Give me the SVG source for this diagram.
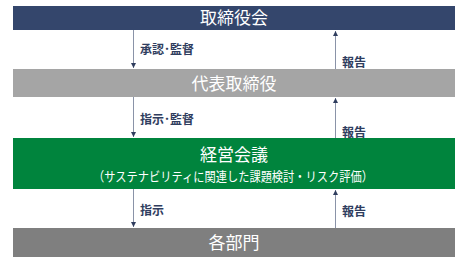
<svg xmlns="http://www.w3.org/2000/svg" width="467" height="264" viewBox="0 0 467 264">
<defs>
<style>
.t{font-family:"Noto Sans CJK JP","Noto Sans",sans-serif;fill:#fff;text-anchor:middle}
.lb{font-family:"Noto Sans CJK JP","Noto Sans",sans-serif;fill:#2f3d5e;font-weight:bold;font-size:12px}
.c{stroke:#8a93a8;stroke-width:1;fill:none}
</style>
<marker id="ah" viewBox="0 0 6 6" refX="6" refY="3" markerWidth="5" markerHeight="5" orient="auto" markerUnits="userSpaceOnUse">
<path d="M0,0 L6,3 L0,6 Z" fill="#2f3d5e"/>
</marker>
</defs>
<rect width="467" height="264" fill="#fff"/>
<g id="board">
<rect x="13" y="6" width="442" height="24" fill="#34466c"/>
<text class="t" x="234" y="24" font-size="17">取締役会</text>
</g>
<g id="president">
<rect x="13" y="69" width="442" height="28" fill="#a5a5a5"/>
<text class="t" x="234" y="90" font-size="17">代表取締役</text>
</g>
<g id="management">
<rect x="13" y="138" width="442" height="51" fill="#00843d"/>
<text class="t" x="234" y="161" font-size="17">経営会議</text>
<text class="t" x="233" y="180.5" font-size="13" textLength="280" lengthAdjust="spacingAndGlyphs">（サステナビリティに関連した課題検討・リスク評価）</text>
</g>
<g id="departments">
<rect x="13" y="228" width="442" height="29" fill="#7f7f7f"/>
<text class="t" x="234" y="249" font-size="17">各部門</text>
</g>
<g id="connectors">
<line class="c" x1="133.5" y1="30" x2="133.5" y2="68" marker-end="url(#ah)"/>
<line class="c" x1="335.5" y1="69" x2="335.5" y2="31" marker-end="url(#ah)"/>
<line class="c" x1="133.5" y1="97" x2="133.5" y2="137" marker-end="url(#ah)"/>
<line class="c" x1="335.5" y1="138" x2="335.5" y2="98" marker-end="url(#ah)"/>
<line class="c" x1="133.5" y1="189" x2="133.5" y2="227" marker-end="url(#ah)"/>
<line class="c" x1="335.5" y1="228" x2="335.5" y2="190" marker-end="url(#ah)"/>
<text class="lb" x="140" y="53.5">承認･監督</text>
<text class="lb" x="342" y="66.5">報告</text>
<text class="lb" x="140" y="123.5">指示･監督</text>
<text class="lb" x="342" y="136.5">報告</text>
<text class="lb" x="140" y="214.5">指示</text>
<text class="lb" x="342" y="215.5">報告</text>
</g>
</svg>
